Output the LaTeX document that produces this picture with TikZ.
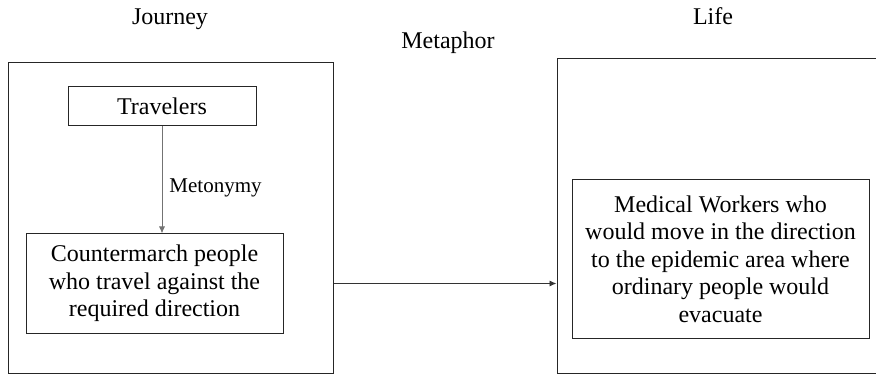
\documentclass[tikz,border=0pt]{standalone}
\usepackage{fontspec}
\setmainfont{LiberationSerif}[Extension=.ttf, UprightFont=*-Regular, BoldFont=*-Bold]
\usetikzlibrary{arrows.meta}
\begin{document}
\begin{tikzpicture}[x=1pt,y=-1pt,
  bigbox/.style={draw=black!85, line width=1pt, minimum width=#1, inner sep=0pt},
  txtbox/.style={draw=black!85, line width=1pt, align=center, inner sep=0pt,
    font=\fontsize{24}{27.6}\selectfont},
  title/.style={font=\fontsize{24}{27.6}\selectfont, inner sep=0pt, anchor=base},
  conn/.style={line width=0.9pt, -{Latex[length=7pt,width=6pt]}}
]
\useasboundingbox (0,0) rectangle (876,374);
\node[title] (journey) at (170,25) {Journey};
\node[title] (metaphor) at (448,49) {Metaphor};
\node[title] (life) at (713,25) {Life};
\node[bigbox=325pt, minimum height=310pt] (lbox) at (170.5,218) {};
\node[bigbox=323pt, minimum height=314pt] (rbox) at (718.5,216) {};
\node[txtbox, minimum width=188pt, minimum height=39pt] (trav) at (162,106.5) {Travelers};
\node[txtbox, minimum width=257pt, minimum height=99pt] (counter) at (154.5,283.5)
  {Countermarch people\\who travel against the\\required direction};
\node[txtbox, minimum width=297pt, minimum height=158pt] (med) at (720.5,259)
  {Medical Workers who\\would move in the direction\\to the epidemic area where\\ordinary people would\\evacuate};
\draw[conn, draw=black!55] (trav.south) -- node[pos=0.57, anchor=west, inner sep=0pt, xshift=7pt,
  font=\fontsize{21}{24}\selectfont, text=black] (meto) {Metonymy} (trav.south |- counter.north);
\draw[conn, draw=black!80] (counter.east -| lbox.east) -- (counter.east -| rbox.west);
\end{tikzpicture}
\end{document}
